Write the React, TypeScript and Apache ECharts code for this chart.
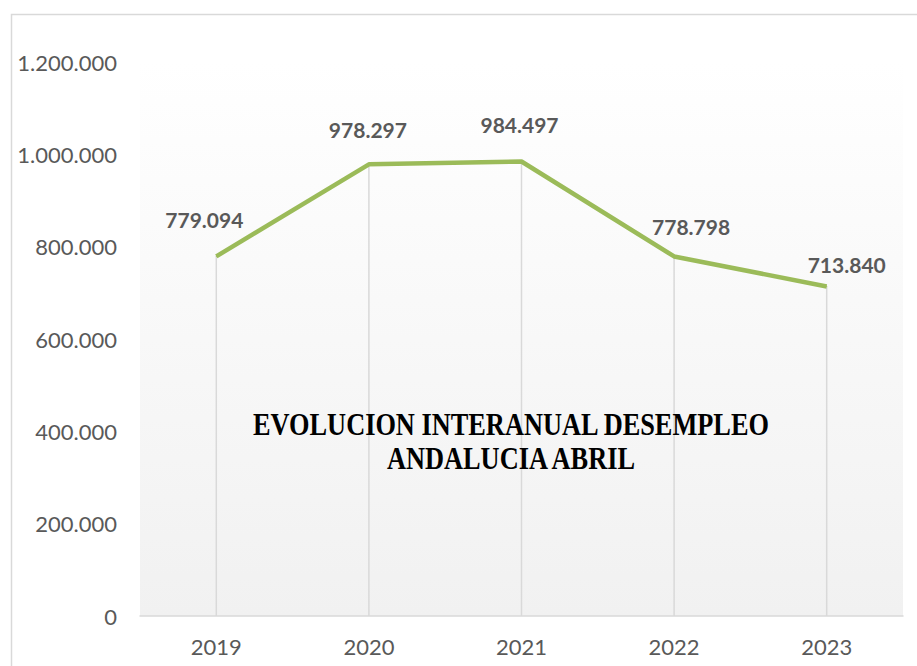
import React, { useEffect, useRef } from "react";
import * as echarts from "echarts";

const categories = ["2019", "2020", "2021", "2022", "2023"];
const values = [779094, 978297, 984497, 778798, 713840];
const yTicks = { min: 0, max: 1200000, interval: 200000 };
const titleLines = ["EVOLUCION INTERANUAL DESEMPLEO", "ANDALUCIA ABRIL"];
// label placement offsets (style, not data)
const labelOffsets: [number, number][] = [
  [-12, -24],
  [-1, -22],
  [-2, -24],
  [17, -17],
  [20, -9],
];

const fmt = (v: number) =>
  String(Math.round(v)).replace(/\B(?=(\d{3})+(?!\d))/g, ".");

export default function App() {
  const ref = useRef<HTMLDivElement>(null);
  useEffect(() => {
    document.body.style.margin = "0";
    const chart = echarts.init(ref.current!, null, { renderer: "svg" });
    chart.setOption({
      animation: false,
      backgroundColor: "#ffffff",
      grid: {
        left: 140,
        right: 14,
        top: 62,
        bottom: 50,
        show: true,
        borderWidth: 0,
        backgroundColor: new echarts.graphic.LinearGradient(0, 0, 0, 1, [
          { offset: 0, color: "#ffffff" },
          { offset: 1, color: "#f1f1f1" },
        ]),
      },
      graphic: [
        {
          type: "rect",
          shape: { x: 11.5, y: 14.5, width: 1000, height: 1000 },
          style: { fill: "none", stroke: "#d9d9d9", lineWidth: 1.5 },
          z: 100,
          silent: true,
        },
        {
          type: "text",
          x: 511,
          y: 441,
          scaleX: 0.85,
          z: 100,
          style: {
            text: titleLines.join("\n"),
            fontFamily: "'Liberation Serif', serif",
            fontWeight: "bold",
            fontSize: 31,
            lineHeight: 34,
            fill: "#000000",
            textAlign: "center",
            textVerticalAlign: "middle",
          },
        },
      ],
      xAxis: {
        type: "category",
        data: categories,
        boundaryGap: true,
        axisLine: { show: true, lineStyle: { color: "#d9d9d9", width: 1.5 } },
        axisTick: { show: false },
        splitLine: { show: false },
        axisLabel: {
          color: "#595959",
          fontFamily: "Lato, sans-serif",
          fontSize: 22,
          margin: 19,
        },
      },
      yAxis: {
        type: "value",
        min: yTicks.min,
        max: yTicks.max,
        interval: yTicks.interval,
        axisLine: { show: false },
        axisTick: { show: false },
        splitLine: { show: false },
        axisLabel: {
          color: "#595959",
          fontFamily: "Lato, sans-serif",
          fontSize: 22,
          margin: 23,
          formatter: (v: number) => fmt(v),
        },
      },
      series: [
        {
          type: "bar",
          data: values,
          barWidth: 1.5,
          itemStyle: { color: "#d9d9d9" },
          silent: true,
          z: 1,
        },
        {
          type: "line",
          data: values.map((v, i) => ({
            value: v,
            label: { offset: labelOffsets[i] },
          })),
          symbol: "circle",
          symbolSize: 1,
          showSymbol: true,
          itemStyle: { color: "#9bbb59" },
          lineStyle: { color: "#9bbb59", width: 4.5 },
          z: 5,
          label: {
            show: true,
            position: "top",
            distance: 0,
            color: "#595959",
            fontFamily: "Lato, sans-serif",
            fontWeight: "bold",
            fontSize: 21,
            lineHeight: 24,
            formatter: (p: any) => fmt(p.value),
          },
        },
      ],
    });
    return () => chart.dispose();
  }, []);
  return (
    <div
      ref={ref}
      style={{ position: "fixed", left: 0, top: 0, width: 917, height: 666 }}
    />
  );
}
